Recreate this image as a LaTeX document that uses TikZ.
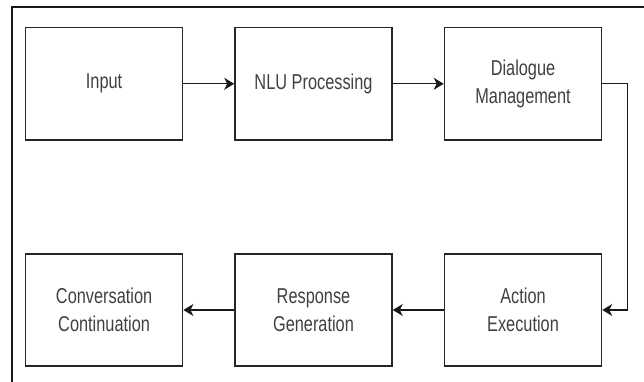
\documentclass[tikz,border=0pt]{standalone}
\usepackage{fontspec}
\setmainfont{Liberation Sans}[FakeStretch=0.76]
\usetikzlibrary{arrows.meta}
\begin{document}
\begin{tikzpicture}[x=1pt,y=-1pt,
  stepbox/.style={draw=black!85, line width=1.6pt, minimum width=157pt, minimum height=112.5pt,
    inner sep=0pt, align=center, text=black!75, font=\fontsize{21.5}{28}\selectfont},
  link/.style={draw=black!90, line width=1.4pt, -{Stealth[length=10pt,width=12pt,inset=3pt]}}]
\useasboundingbox (0,0) rectangle (644,382);
\draw[line width=2pt, black!90] (11.7,382) -- (11.7,7) -- (644,7);
\node[stepbox] (in) at (104.1,83.8) {Input};
\node[stepbox] (nlu) at (313.5,83.8) {NLU Processing};
\node[stepbox] (dm) at (523,83.8) {Dialogue\\Management};
\node[stepbox] (ae) at (523,310) {Action\\Execution};
\node[stepbox] (rg) at (313.5,310) {Response\\Generation};
\node[stepbox] (cc) at (104.1,310) {Conversation\\Continuation};
\coordinate (c1) at (627.5,83.8);
\coordinate (c2) at (627.5,310);
\draw[link] (in) -- (nlu);
\draw[link] (nlu) -- (dm);
\draw[link] (dm.east) -- (c1) -- (c2) -- (ae.east);
\draw[link] (ae) -- (rg);
\draw[link] (rg) -- (cc);
\end{tikzpicture}
\end{document}
